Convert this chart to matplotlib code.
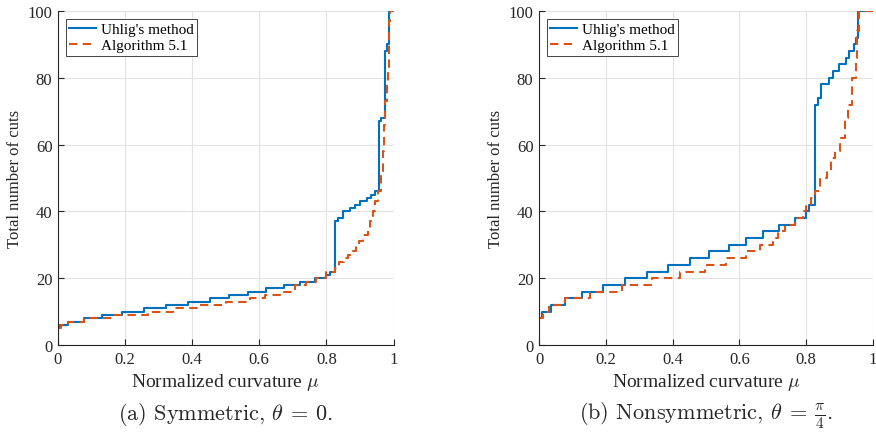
import numpy as np
import matplotlib
matplotlib.use("Agg")
import matplotlib.pyplot as plt

plt.rcParams['font.family'] = ['Liberation Serif', 'DejaVu Serif']
plt.rcParams['mathtext.fontset'] = 'cm'

# data (step curves, drawn with steps-post)
mu_uhlig_a = [0, 0.005, 0.03, 0.078, 0.132, 0.19, 0.257, 0.323, 0.388, 0.452, 0.509,
              0.566, 0.621, 0.673, 0.72, 0.767, 0.80, 0.81, 0.827, 0.834, 0.849, 0.871,
              0.886, 0.901, 0.922, 0.932, 0.946, 0.956, 0.958, 0.963, 0.974, 0.98, 0.988, 1.0]
cuts_uhlig_a = [5, 6, 7, 8, 9, 10, 11, 12, 13, 14, 15, 16, 17, 18, 19, 20, 21, 22, 37, 38,
                40, 41, 42, 43, 44, 45, 46, 47, 67, 68, 88, 90, 100, 100]

mu_alg_a = [0, 0.01, 0.03, 0.078, 0.16, 0.267, 0.342, 0.423, 0.502, 0.571, 0.616, 0.67,
            0.705, 0.738, 0.768, 0.80, 0.827, 0.839, 0.852, 0.864, 0.875, 0.887, 0.898,
            0.908, 0.923, 0.93, 0.938, 0.946, 0.955, 0.962, 0.968, 0.972, 0.976, 0.98,
            0.983, 0.986, 0.988, 0.99, 1.0]
cuts_alg_a = [5, 6, 7, 8, 9, 10, 11, 12, 13, 14, 15, 16, 18, 19, 20, 22, 23, 25, 26, 27,
              28, 30, 31, 33, 35, 37, 40, 43, 46, 52, 58, 66, 73, 78, 83, 90, 97, 100, 100]

mu_uhlig_b = [0, 0.009, 0.036, 0.078, 0.13, 0.191, 0.258, 0.322, 0.386, 0.451, 0.51,
              0.568, 0.621, 0.671, 0.718, 0.765, 0.799, 0.807, 0.825, 0.835, 0.845, 0.868,
              0.881, 0.898, 0.92, 0.929, 0.944, 0.95, 0.955, 1.0]
cuts_uhlig_b = [8, 10, 12, 14, 16, 18, 20, 22, 24, 26, 28, 30, 32, 34, 36, 38, 40, 42, 72,
                74, 78, 80, 82, 84, 86, 88, 90, 92, 100, 100]

mu_alg_b = [0, 0.012, 0.03, 0.078, 0.154, 0.248, 0.337, 0.421, 0.496, 0.56, 0.619, 0.661,
            0.70, 0.715, 0.736, 0.766, 0.789, 0.799, 0.815, 0.827, 0.842, 0.862, 0.874,
            0.886, 0.90, 0.915, 0.926, 0.938, 0.949, 0.953, 0.958, 1.0]
cuts_alg_b = [8, 10, 12, 14, 16, 18, 20, 22, 24, 26, 28, 30, 32, 34, 36, 38, 40, 42, 44,
              46, 50, 52, 56, 58, 62, 68, 72, 80, 86, 94, 100, 100]

x_ticks = [0, 0.2, 0.4, 0.6, 0.8, 1]
x_tick_labels = ["0", "0.2", "0.4", "0.6", "0.8", "1"]
y_ticks = [0, 20, 40, 60, 80, 100]
captions = [r"(a) Symmetric, $\theta\:=\:0$.", r"(b) Nonsymmetric, $\theta\:=\:\frac{\pi}{4}$."]

blue = "#0072BD"
red = "#D95319"

fig = plt.figure(figsize=(8.76, 4.35), dpi=100)
W, H = 876, 435
boxes = [(58, 393.5), (539, 873)]
data = [(mu_uhlig_a, cuts_uhlig_a, mu_alg_a, cuts_alg_a),
        (mu_uhlig_b, cuts_uhlig_b, mu_alg_b, cuts_alg_b)]

for (x0, x1), (xu, yu, xa, ya), cap in zip(boxes, data, captions):
    ax = fig.add_axes([x0 / W, (H - 346) / H, (x1 - x0) / W, 334 / H])
    ax.plot(xu, yu, color=blue, lw=1.5, drawstyle='steps-post', label="Uhlig's method")
    ax.plot(xa, ya, color=red, lw=1.5, drawstyle='steps-post', linestyle=(0, (4, 2.6)),
            label="Algorithm 5.1")
    ax.set_xlim(0, 1)
    ax.set_ylim(0, 100)
    ax.set_xticks(x_ticks)
    ax.set_xticklabels(x_tick_labels)
    ax.set_yticks(y_ticks)
    ax.grid(True, color='#e3e3e3', lw=0.8)
    ax.set_axisbelow(True)
    for s in ['top', 'right']:
        ax.spines[s].set_visible(False)
    for s in ['left', 'bottom']:
        ax.spines[s].set_color('#262626')
        ax.spines[s].set_linewidth(0.8)
    ax.tick_params(direction='in', length=4, width=0.8, color='#262626',
                   labelsize=12, labelcolor='#262626', pad=4)
    ax.set_xlabel(r"Normalized curvature $\mu$", fontsize=14, color='#262626', labelpad=3)
    ax.set_ylabel("Total number of cuts", fontsize=12, color='#262626', labelpad=3)
    leg = ax.legend(loc='upper left', fontsize=11, frameon=True, fancybox=False,
                    framealpha=1, edgecolor='#262626', borderaxespad=0.5,
                    handlelength=1.75, handletextpad=0.3, borderpad=0.25, labelspacing=0.15)
    leg.get_frame().set_linewidth(0.6)
    fig.text((x0 + x1) / 2 / W, 1 - 420 / H, cap, ha='center', va='baseline',
             fontsize=16, family='cmr10', color='#262626')

fig.savefig("out.png", dpi=100)
